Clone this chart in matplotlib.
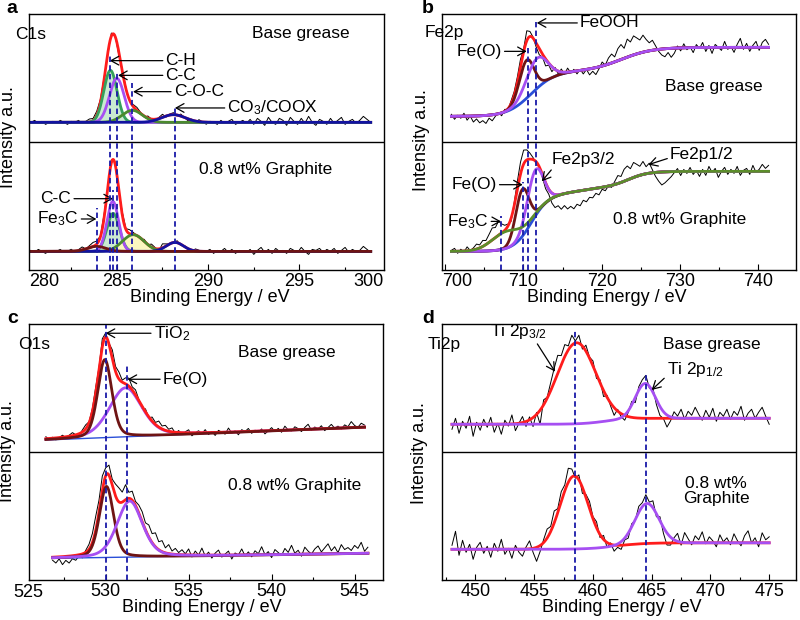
import numpy as np
import matplotlib.pyplot as plt
from matplotlib.ticker import MultipleLocator

plt.rcParams['font.family'] = ['Liberation Sans', 'DejaVu Sans']
plt.rcParams['mathtext.fontset'] = 'custom'
plt.rcParams['mathtext.rm'] = 'Liberation Sans'
plt.rcParams['mathtext.it'] = 'Liberation Sans:italic'

# base grease spectrum is stacked above the 0.8 wt% graphite one
OFFSET = 128

# ---- (a) C1s ---- peaks: (centre eV, height a.u., FWHM eV)
A_LO, A_HI = 280.3, 298.9
A_TOP_BG = 19.3
A_TOP_PEAKS = [(284.65, 52, 0.85), (285.0, 44, 0.95), (285.85, 12, 1.3), (288.1, 7.7, 1.5)]   # C-H, C-C, C-O-C, CO3/COOX
A_BOT_BG = 18.3
A_BOT_PEAKS = [(283.9, 5, 1.2), (284.8, 38, 0.8), (284.78, 50, 0.75), (285.9, 16.7, 1.4), (288.18, 9, 1.1)]  # Fe3C, C-H, C-C, C-O-C, CO3
# raw minus fit
A_TOP_RESID = [0, 2, -1, 1, -2, 0, 1, -1, 2, 0, -2, 1, 0, 2, -1, 1, 3, 2, 4, 3,
               2, -2, 3, 1, -3, 2, 1, -1, 2, 3, 1, -1, 2, 0, -2, 1, 3, -1, 1, 2,
               -1, 2, 0, -2, 1, -1, 2, 0, -2, 1, 0, -2, 2, -1, 1, 3, -2, 0, 2, -1,
               3, -2, 4, 1, -3, 5, 0, -2, 4, 2, -3, 5, 1, -2, 4, -1, 6, 0, -3, 3,
               1, -2, 4, -1, 2, 5, -2, 1, 3, -1, 2, 6, 3, 0]
A_BOT_RESID = [1, -1, 2, 0, -2, 1, -1, 0, 2, -1, 0, 2, -1, 1, 3, 0, 2, 4, 3, 1,
               4, -2, 3, 2, -1, 3, 1, 4, 2, 0, -1, 2, 0, 3, 1, -2, 4, 2, 0, -1,
               2, -1, 1, 0, -2, 2, 1, -1, 0, 2, -2, 1, 0, 3, -1, 2, -2, 1, 0, -1,
               2, -3, 1, 4, -1, 2, -2, 3, 0, 1, -2, 3, 1, -1, 4, 0, -3, 2, 1, 3,
               -1, 2, 0, 3, -2, 1, 4, -1, 2, 0, 1, 5, 2, -1]
A_DASH_X = [283.9, 284.65, 284.8, 285.0, 285.85, 288.18]
A_DASH_TOP = [62, 215, 80, 198, 187, 164]

# ---- (b) Fe2p ---- background steps: (centre eV, rise, width)
B_LO, B_HI = 700.8, 741.3
B_TOP_LEVEL = 25.3
B_TOP_STEPS = [(711.0, 45, 1.5), (722.5, 24, 2.0)]
B_TOP_PEAKS = [(710.4, 38, 2.2), (711.7, 30, 3.2)]  # Fe(O), FeOOH
B_BOT_LEVEL = 18.3
B_BOT_STEPS = [(711.0, 56, 1.1), (717.5, 10, 2.5), (723.5, 14, 1.2)]
B_BOT_PEAKS = [(707.8, 17, 4.4), (709.85, 47, 2.0), (711.5, 46, 2.4)]  # Fe3C, Fe(O), Fe2p3/2
B_TOP_RESID = [2, -3, 1, -2, 3, -4, 0, -6, -3, -7, -5, -8, -3, -6, -2, 1, -3, 2, -1, 3,
               4, 6, 8, 3, 10, 5, 1, -4, -6, -3, -7, -2, -5, 2, -3, 3, -2, 4, -1, 2,
               -3, 1, -4, 0, -6, -3, -7, -2, 4, 0, 6, 9, 5, 12, 15, 10, 18, 14, 19, 16,
               13, 17, 12, 8, 10, 4, -2, -6, -8, -4, -9, -5, 2, -3, 4, -2, 1, -5, 3, -1,
               5, -4, 2, -6, 3, 0, -3, 6, -2, 1, -5, 3, 9, -2, 4, -4, 2, 6, -3, 5, 8, 3]
B_BOT_RESID = [1, 3, -2, 2, -1, 4, 0, 2, 5, 3, 6, 4, 8, 12, 10, 14, 9, 5, 2, -3,
               3, 8, 12, 14, 10, 6, 2, -2, 0, -3, -6, -5, -10, -13, -11, -15, -12, -16, -14, -17,
               -13, -15, -10, -12, -8, -9, -5, -7, -2, -4, 0, -2, 3, 8, 6, 12, 14, 10, 15, 12,
               9, 13, 7, 10, 3, -4, -9, -13, -11, -8, -5, -1, 3, -4, 2, -2, 4, -3, 1, -5,
               2, -4, 5, -1, 3, -6, 0, 4, -3, 2, -2, 5, -4, 1, 3, -3, 6, -1, 2, 7, 3, 6]
B_DASH_X = [707.1, 709.9, 710.55, 711.6]
B_DASH_TOP = [54, 88, 222, 248]

# ---- (c) O1s ---- linear background (level at start, slope per eV)
C_TOP_LO, C_TOP_HI = 526.4, 545.6
C_TOP_LEVEL, C_TOP_SLOPE = 12, 0.665
C_TOP_PEAKS = [(529.95, 78, 1.0), (531.2, 49, 2.3)]  # TiO2, Fe(O)
C_BOT_LO, C_BOT_HI = 526.8, 545.8
C_BOT_LEVEL, C_BOT_SLOPE = 21.7, 0.263
C_BOT_PEAKS = [(530.05, 71, 1.0), (531.45, 56, 1.8)]
C_ETA = 0.3  # lorentzian share of the O1s line shape
C_TOP_RESID = [2, -1, 1, -2, 0, 2, -1, 1, 3, 0, -2, 2, 4, 1, 3, 6, 2, 8, 4, 1,
               9, 5, 7, 2, 6, 8, 3, 5, 1, -2, 3, -1, 4, 2, 6, 3, 5, 2, 4, -1,
               2, -2, 1, 3, -3, 0, 2, -1, 3, -2, 1, -3, 2, 0, -2, 4, -1, 1, -3, 2,
               0, 3, -2, 1, -1, 2, -3, 0, 3, -1, 2, -2, 4, 0, -1, 3, 1, -2, 2, 5,
               -1, 2, 0, 3, -2, 1, 4, 0, 2, -1, 3, 1, 6, 2, 0, 4, 2]
C_BOT_RESID = [-3, -6, -2, -8, -4, -7, -3, -5, -1, -4, 2, 5, 9, 14, 12, 15, 8, 10, 6, 12,
               14, 10, 15, 6, 9, 4, 8, 10, 7, 12, 9, 14, 8, 11, 5, 9, 3, 6, 2, 5,
               1, 6, -2, 4, 0, 7, -1, 3, -3, 2, 5, -2, 1, 4, -4, 2, 0, 6, -1, 3,
               -2, 4, 1, 8, 0, 3, -3, 5, 2, -1, 6, 2, 9, 1, 4, -2, 7, 3, 0, 5,
               8, 2, 6, 10, 3, 7, 1, 9, 4, 6, 3, 8, 5, 11, 2, 6]
C_DASH_X = [530.0, 531.3]
C_DASH_TOP = [255, 215]

# ---- (d) Ti2p ----
D_LO, D_HI = 448.0, 475.0
D_TOP_LEVEL = 27.7
D_TOP_STEPS = [(461.0, 6, 1.0)]
D_TOP_PEAKS = [(458.6, 81, 3.9), (464.45, 35, 2.0)]  # Ti 2p3/2, Ti 2p1/2
D_BOT_LEVEL = 30.7
D_BOT_STEPS = [(462.0, 6.5, 1.2)]
D_BOT_PEAKS = [(458.4, 73, 2.8), (464.6, 40, 2.4)]
D_TOP_RESID = [-5, 6, -9, 3, -4, 8, -12, 2, -6, 5, -3, 7, -8, 1, -10, 4, -2, 9, -7, 0,
               6, -5, 3, -9, 2, -14, 5, 1, 8, 14, 18, 9, 12, 4, 10, 2, 8, -3, 6, 1,
               5, -4, 3, -6, 2, -3, -8, 1, -5, -9, -4, 2, -6, 3, 5, 8, -2, 4, -5, -9,
               -7, -12, -4, 6, 2, 9, -1, 7, 3, 11, 4, -2, 8, 1, 10, -3, 6, 2, 9, -1,
               7, 3, 12, -2, 5, 9, 0, 6, 11, 2, -6]
D_BOT_RESID = [4, 18, -6, 9, -3, 5, -10, 2, 7, -4, 3, -8, 6, -2, 10, -5, 1, -9, 4, -3,
               -7, 2, 8, -4, -14, -6, 3, 9, 5, 12, 4, 10, 6, 14, 8, -2, 5, -6, 3, 7,
               2, 6, -3, 4, -5, 1, -7, -4, -8, -2, -5, 3, -1, 6, 4, 9, 2, 7, -3, 4,
               -6, -12, -8, 2, 8, -3, 10, 4, -2, 7, 3, 11, -1, 6, 2, -4, 8, 1, 5, -2,
               9, 2, -3, 7, 12, 0, 5, -4, 10, 3, 6]
D_DASH_X = [458.47, 464.5]
D_DASH_TOP = [250, 208]

RED = '#ff1c1c'
PURPLE = '#a64ff2'
MAROON = '#6e1414'
BLUE = '#2a4fd8'
NAVY = '#1212a0'
GREEN = '#35a05c'
OLIVE = '#4b8a2e'
FE_GREEN = '#5c8d2b'
DASH = '#1a1aa8'


def peak(x, c, a, w, eta=0.0):
    u = (x - c) / w
    return a * ((1 - eta) * np.exp(-4 * np.log(2) * u ** 2) + eta / (1 + 4 * u ** 2))


def background(x, level, slope=0.0, steps=()):
    y = level + slope * (x - x[0])
    for c, h, s in steps:
        y = y + h / (1 + np.exp(-(x - c) / s))
    return y


def spectrum(lo, hi, resid, level, peaks, slope=0.0, steps=(), eta=0.0, off=0):
    xf = np.linspace(lo, hi, 800)
    bg = background(xf, level, slope, steps)
    comps = [peak(xf, c, a, w, eta) for c, a, w in peaks]
    xr = np.linspace(lo, hi, len(resid))
    raw = background(xr, level, slope, steps) + sum(peak(xr, c, a, w, eta) for c, a, w in peaks) + np.asarray(resid)
    return xr, raw + off, xf, bg + off, [bg + off + c for c in comps], bg + off + sum(comps)


def frame(ax, lim, ticks, labels, minor, xlab_x, ylab_x, ylab_y):
    ax.set_xlim(*lim)
    ax.set_ylim(0, 256)
    ax.set_yticks([])
    ax.set_xticks(ticks, labels)
    ax.xaxis.set_minor_locator(MultipleLocator(minor))
    ax.tick_params(axis='x', which='major', direction='in', length=4, width=0.8, labelsize=13, pad=2.5)
    ax.tick_params(axis='x', which='minor', direction='in', length=2.5, width=0.8)
    ax.axhline(OFFSET, color='k', lw=1)
    ax.set_xlabel('Binding Energy / eV', fontsize=13)
    ax.xaxis.set_label_coords(xlab_x, -0.076)
    ax.set_ylabel('Intensity a.u.', fontsize=13)
    ax.yaxis.set_label_coords(ylab_x, ylab_y)
    for s in ax.spines.values():
        s.set_linewidth(1.0)


def edge_label(ax, fx, s):
    # end labels of the original sit just inside the frame
    ax.text(fx, -0.014, s, transform=ax.transAxes, ha='center', va='top', fontsize=13)


def note(ax, s, txt, head, ha='left', rel=(0.5, 0.5)):
    ax.annotate(s, xy=head, xytext=txt, ha=ha, va='center', fontsize=12.5,
                arrowprops=dict(arrowstyle='->, head_length=0.45, head_width=0.25',
                                color='k', lw=0.9, shrinkA=0, shrinkB=0, relpos=rel))


def tag(ax, fx, fy, s, size=12.5, **kw):
    ax.text(fx, fy, s, transform=ax.transAxes, va='center', fontsize=size, **kw)


fig = plt.figure(figsize=(8, 6.2), dpi=100)
ax_a = fig.add_axes([0.036, 0.565, 0.444, 0.413])
ax_b = fig.add_axes([0.5525, 0.565, 0.4425, 0.413])
ax_c = fig.add_axes([0.036, 0.0645, 0.4425, 0.413])
ax_d = fig.add_axes([0.5525, 0.0645, 0.4425, 0.413])

# ---------------- a ----------------
ax = ax_a
xr, raw, xf, bg, lines, env = spectrum(A_LO, A_HI, A_TOP_RESID, A_TOP_BG, A_TOP_PEAKS, off=OFFSET)
ax.plot(xr, raw, color='k', lw=0.7)
ax.plot(xf, env, color=RED, lw=2)
ax.fill_between(xf, bg, lines[0], color='#a8dcb3', lw=0, alpha=0.6)
for y, col in zip(lines, [GREEN, PURPLE, OLIVE, NAVY]):
    ax.plot(xf, y, color=col, lw=2)

xr, raw, xf, bg, lines, env = spectrum(A_LO, A_HI, A_BOT_RESID, A_BOT_BG, A_BOT_PEAKS)
ax.plot(xr, raw, color='k', lw=0.7)
ax.plot(xf, env, color=RED, lw=2)
ax.fill_between(xf, bg, lines[1], color='#a8dcb3', lw=0, alpha=0.6)
ax.fill_between(xf, bg, lines[3], color='#fbf7c0', lw=0)
for y, col in zip(lines[1:] + lines[:1], [GREEN, PURPLE, OLIVE, NAVY, MAROON]):
    ax.plot(xf, y, color=col, lw=2)
ax.vlines(A_DASH_X, 0, A_DASH_TOP, colors=DASH, linestyles=(0, (3, 1.8)), lw=1.3, zorder=5)

frame(ax, (280.18, 299.63), [285, 290, 295], ['285', '290', '295'], 2.5, 0.51, -0.032, 0.518)
edge_label(ax, 0.042, '280')
edge_label(ax, 0.956, '300')
note(ax, 'C-H', (287.67, 209), (284.61, 209))
note(ax, 'C-C', (287.67, 194.3), (285.07, 194.3))
note(ax, 'C-O-C', (288.12, 178), (285.89, 178))
note(ax, r'CO$_3$/COOX', (291.06, 161.7), (288.18, 161.7))
note(ax, 'C-C', (280.82, 71), (284.79, 71))
note(ax, r'Fe$_3$C', (280.63, 50.7), (283.88, 50.7))
tag(ax, -0.039, 0.918, 'C1s')
tag(ax, 0.627, 0.921, 'Base grease')
tag(ax, 0.48, 0.39, '0.8 wt% Graphite')
tag(ax, -0.062, 1.02, 'a', size=14, fontweight='bold')

# ---------------- b ----------------
ax = ax_b
xr, raw, xf, bg, lines, env = spectrum(B_LO, B_HI, B_TOP_RESID, B_TOP_LEVEL, B_TOP_PEAKS,
                                       steps=B_TOP_STEPS, off=OFFSET)
ax.plot(xr, raw, color='k', lw=0.7)
ax.plot(xf, bg, color=BLUE, lw=2)
ax.plot(xf, env, color=RED, lw=2)
ax.plot(xf, lines[0], color=MAROON, lw=2)
ax.plot(xf, lines[1], color=PURPLE, lw=2)

xr, raw, xf, bg, lines, env = spectrum(B_LO, B_HI, B_BOT_RESID, B_BOT_LEVEL, B_BOT_PEAKS,
                                       steps=B_BOT_STEPS)
ax.plot(xr, raw, color='k', lw=0.7)
ax.plot(xf, bg, color=BLUE, lw=2)
ax.plot(xf, env, color=RED, lw=2)
ax.plot(xf, lines[1], color=MAROON, lw=2)
ax.plot(xf, lines[2], color=PURPLE, lw=2)
ax.plot(xf, lines[0], color=FE_GREEN, lw=2)
ax.vlines(B_DASH_X, 0, B_DASH_TOP, colors=DASH, linestyles=(0, (3, 1.8)), lw=1.3, zorder=5)

frame(ax, (699.6, 744.8), [700, 710, 720, 730, 740], ['', '710', '720', '730', '740'], 5, 0.465, -0.034, 0.508)
edge_label(ax, 0.0415, '700')
note(ax, 'FeOOH', (717.23, 246.7), (711.7, 246.7))
note(ax, 'Fe(O)', (707.23, 218.3), (710.42, 218.3), ha='right')
note(ax, 'Fe2p3/2', (713.6, 110), (712.34, 88.3), rel=(0.05, 0.1))
note(ax, 'Fe2p1/2', (728.72, 115), (725.95, 105), rel=(0.0, 0.3))
note(ax, 'Fe(O)', (706.59, 85), (709.91, 85), ha='right')
note(ax, r'Fe$_3$C', (705.52, 48.3), (707.14, 48.3), ha='right')
tag(ax, -0.048, 0.926, 'Fe2p')
tag(ax, 0.63, 0.714, 'Base grease')
tag(ax, 0.483, 0.195, '0.8 wt% Graphite')
tag(ax, -0.056, 1.02, 'b', size=14, fontweight='bold')

# ---------------- c ----------------
ax = ax_c
xr, raw, xf, bg, lines, env = spectrum(C_TOP_LO, C_TOP_HI, C_TOP_RESID, C_TOP_LEVEL, C_TOP_PEAKS,
                                       slope=C_TOP_SLOPE, eta=C_ETA, off=OFFSET)
ax.plot(xr, raw, color='k', lw=0.7)
ax.plot(xf, bg, color=BLUE, lw=1)
ax.plot(xf, lines[1], color=PURPLE, lw=2)
ax.plot(xf, env, color=RED, lw=2)
ax.plot(xf, lines[0], color=MAROON, lw=2)

xr, raw, xf, bg, lines, env = spectrum(C_BOT_LO, C_BOT_HI, C_BOT_RESID, C_BOT_LEVEL, C_BOT_PEAKS,
                                       slope=C_BOT_SLOPE, eta=C_ETA)
ax.plot(xr, raw, color='k', lw=0.7)
ax.plot(xf, bg, color=BLUE, lw=1)
ax.plot(xf, env, color=RED, lw=2)
ax.plot(xf, lines[0], color=MAROON, lw=2)
ax.plot(xf, lines[1], color=PURPLE, lw=2)
ax.vlines(C_DASH_X, 0, C_DASH_TOP, colors=DASH, linestyles=(0, (3, 1.8)), lw=1.3, zorder=5)

frame(ax, (525.37, 546.7), [530, 535, 540, 545], ['530', '535', '540', '545'], 2.5, 0.488, -0.035, 0.504)
edge_label(ax, 0.0, '525')
note(ax, r'TiO$_2$', (532.9, 246.7), (530.0, 246.7))
note(ax, 'Fe(O)', (533.45, 200.7), (531.32, 200.7))
tag(ax, -0.031, 0.918, 'O1s')
tag(ax, 0.591, 0.888, 'Base grease')
tag(ax, 0.562, 0.371, '0.8 wt% Graphite')
tag(ax, -0.062, 1.02, 'c', size=14, fontweight='bold')

# ---------------- d ----------------
ax = ax_d
xr, raw, xf, bg, lines, env = spectrum(D_LO, D_HI, D_TOP_RESID, D_TOP_LEVEL, D_TOP_PEAKS,
                                       steps=D_TOP_STEPS, off=OFFSET)
ax.plot(xr, raw, color='k', lw=0.7)
ax.plot(xf, lines[0], color=RED, lw=2)
ax.plot(xf, lines[1], color=PURPLE, lw=2)

xr, raw, xf, bg, lines, env = spectrum(D_LO, D_HI, D_BOT_RESID, D_BOT_LEVEL, D_BOT_PEAKS,
                                       steps=D_BOT_STEPS)
ax.plot(xr, raw, color='k', lw=0.7)
ax.plot(xf, lines[0], color=RED, lw=2)
ax.plot(xf, lines[1], color=PURPLE, lw=2)
ax.vlines(D_DASH_X, 0, D_DASH_TOP, colors=DASH, linestyles=(0, (3, 1.8)), lw=1.3, zorder=5)

frame(ax, (447.15, 477.28), [450, 455, 460, 465, 470, 475], ['450', '455', '460', '465', '470', '475'],
      2.5, 0.508, -0.040, 0.496)
note(ax, r'Ti 2p$_{3/2}$', (451.23, 248.3), (456.77, 208.3), rel=(0.8, 0.0))
note(ax, r'Ti 2p$_{1/2}$', (466.3, 210), (465.0, 190), rel=(0.0, 0.2))
tag(ax, -0.040, 0.918, 'Ti2p')
tag(ax, 0.624, 0.921, 'Base grease')
tag(ax, 0.774, 0.348, '0.8 wt%\nGraphite', ha='center', linespacing=1.05)
tag(ax, -0.056, 1.02, 'd', size=14, fontweight='bold')

fig.savefig('out.png', dpi=100)
